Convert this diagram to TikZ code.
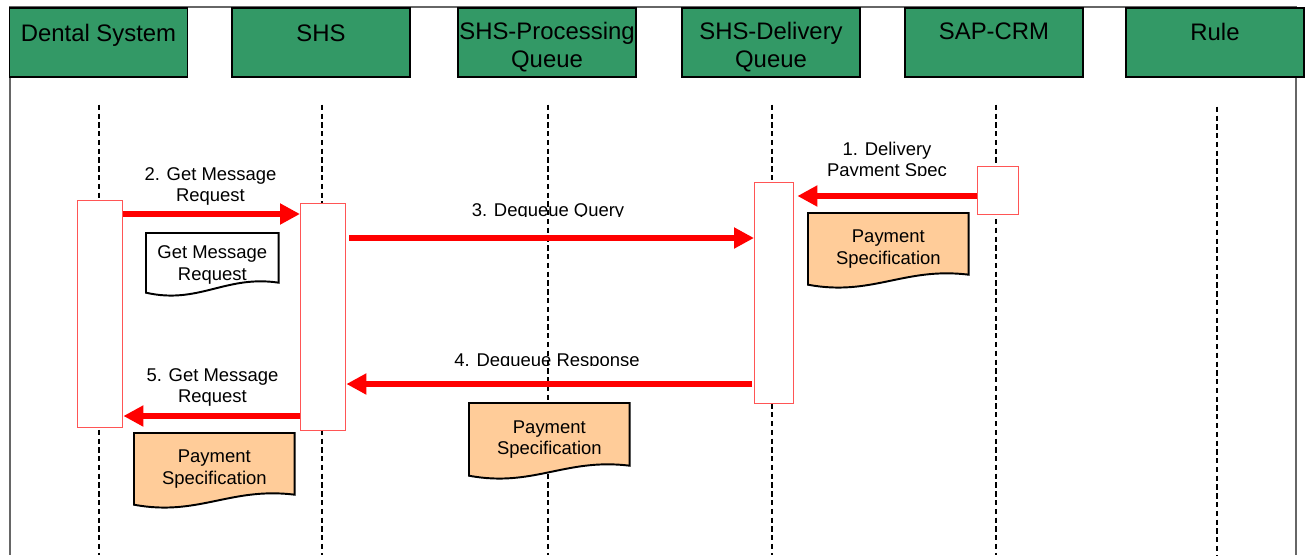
\documentclass[tikz,border=0pt]{standalone}
\usepackage{fontspec}
\setmainfont{Liberation Sans}
\usetikzlibrary{arrows.meta,calc}
\definecolor{hdgreen}{HTML}{339966}
\definecolor{docorange}{HTML}{FFCC99}
\definecolor{actred}{HTML}{FF5555}
\tikzset{
  head/.style={draw=black,line width=1pt,fill=hdgreen,minimum width=3.56cm,minimum height=1.38cm,anchor=north,inner sep=0},
  headtxt/.style={anchor=north,inner sep=0,align=center,font=\fontsize{13.6}{15.9}\selectfont},
  lifeline/.style={black,line width=0.6pt,dash pattern=on 3pt off 2pt},
  act/.style={draw=actred,line width=0.8pt,fill=white,anchor=north west,minimum width=0.9cm,inner sep=0},
  msg/.style={red,line width=0.13cm,-{Triangle[length=0.4cm,width=0.4cm]}},
  msgtxt/.style={inner sep=0,align=center,font=\fontsize{10.5}{11.9}\selectfont},
  docbox/.style={anchor=north west,inner sep=0,minimum width=3.2cm},
  docline/.style={draw=black,line width=1.1pt},
  doctxt/.style={inner sep=0,align=center,font=\fontsize{10.5}{12.2}\selectfont}
}
\newcommand\docoutline[3]{%
  \draw[docline,fill=#3] (#1.north west) -- (#1.north east) -- ($(#1.south east)+(0,-10)$)
    .. controls ($(#1.south east)+(-0.4*#2,-18)$) and ($(#1.south west)+(0.4*#2,12)$) .. (#1.south west) -- cycle;}
\begin{document}
\begin{tikzpicture}[x=0.02cm,y=-0.02cm]
  \useasboundingbox (0,0) rectangle (1308,555);
  \draw[black!60,line width=0.8pt] (1296,555) -- (1296,7) -- (10,7) -- (10,555);

  \node[head] (ds) at (98.5,7) {};
  \node[head] (shs) at (321,7) {};
  \node[head] (proc) at (547,7) {};
  \node[head] (deliv) at (771,7) {};
  \node[head] (sap) at (994,7) {};
  \node[head] (rule) at (1215,7) {};
  \node[headtxt] (dstxt) at ($(ds.north)+(0,17)$) {Dental System};
  \node[headtxt] (shstxt) at ($(shs.north)+(0,17)$) {SHS};
  \node[headtxt] (proctxt) at ($(proc.north)+(0,15)$) {SHS-Processing\\Queue};
  \node[headtxt] (delivtxt) at ($(deliv.north)+(0,15)$) {SHS-Delivery\\Queue};
  \node[headtxt] (saptxt) at ($(sap.north)+(0,15)$) {SAP-CRM};
  \node[headtxt] (ruletxt) at ($(rule.north)+(0,16)$) {Rule};

  \node[msgtxt,anchor=south] (m2) at (210.5,205.5) {2. Get Message\\Request};
  \node[msgtxt,anchor=south] (m5) at (212.5,407) {5. Get Message\\Request};
  \begin{scope}
    \clip (800,130) rectangle (980,175);
    \node[msgtxt,anchor=south] (m1) at (887,180.2) {1. Delivery\\Payment Spec};
  \end{scope}
  \begin{scope}
    \clip (440,190) rectangle (660,216);
    \node[msgtxt,anchor=base] (m3) at (548,216.3) {3. Dequeue Query};
  \end{scope}
  \begin{scope}
    \clip (440,340) rectangle (660,365.6);
    \node[msgtxt,anchor=base] (m4) at (547,366.3) {4. Dequeue Response};
  \end{scope}

  \draw[lifeline] ($(ds.south)+(0.5,27)$) -- ($(ds.south |- 0,555)+(0.5,0)$);
  \draw[lifeline] ($(shs.south)+(1,27)$) -- ($(shs.south |- 0,555)+(1,0)$);
  \draw[lifeline] ($(proc.south)+(1,27)$) -- ($(proc.south |- 0,555)+(1,0)$);
  \draw[lifeline] ($(deliv.south)+(1,27)$) -- ($(deliv.south |- 0,555)+(1,0)$);
  \draw[lifeline] ($(sap.south)+(2,27)$) -- ($(sap.south |- 0,555)+(2,0)$);
  \draw[lifeline] ($(rule.south)+(2,29)$) -- ($(rule.south |- 0,555)+(2,0)$);

  \node[docbox,minimum width=2.64cm,minimum height=1.18cm] (gmdoc) at (146,233) {};
  \docoutline{gmdoc}{132}{white}
  \node[doctxt] (gmdoctxt) at ($(gmdoc.center)+(0,2)$) {Get Message\\Request};
  \node[docbox,minimum height=1.42cm] (psdeliv) at (808,213) {};
  \docoutline{psdeliv}{160}{docorange}
  \node[doctxt] (psdelivtxt) at (psdeliv.center) {Payment\\Specification};
  \node[docbox,minimum height=1.44cm] (psproc) at (469,403) {};
  \docoutline{psproc}{160}{docorange}
  \node[doctxt] (psproctxt) at (psproc.center) {Payment\\Specification};
  \node[docbox,minimum height=1.42cm] (psds) at (134,433) {};
  \docoutline{psds}{160}{docorange}
  \node[doctxt] (psdstxt) at (psds.center) {Payment\\Specification};

  \node[act,minimum height=4.54cm] (dsact) at (77,200) {};
  \node[act,minimum height=4.54cm] (shsact) at (300,203) {};
  \node[act,minimum width=0.78cm,minimum height=4.42cm] (delact) at (754,182) {};
  \node[act,minimum width=0.82cm,minimum height=0.96cm] (sapact) at (977,166) {};

  \draw[msg] (sapact.west |- 0,196) -- ($(delact.east |- 0,196)+(3,0)$);
  \draw[msg] (dsact.east |- 0,214) -- (shsact.west |- 0,214);
  \draw[msg] ($(shsact.east |- 0,238)+(3,0)$) -- (delact.west |- 0,238);
  \draw[msg] ($(delact.west |- 0,384)+(-2,0)$) -- (shsact.east |- 0,384);
  \draw[msg] (shsact.west |- 0,416) -- (dsact.east |- 0,416);
\end{tikzpicture}
\end{document}
